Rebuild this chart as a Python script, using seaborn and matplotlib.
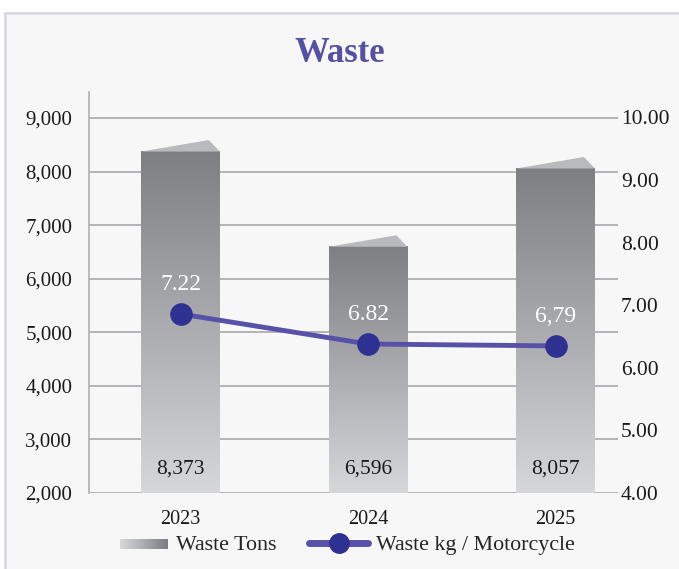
import numpy as np
import matplotlib
matplotlib.use("Agg")
import matplotlib.pyplot as plt
import seaborn as sns
from matplotlib.patches import Rectangle, Polygon
from matplotlib.lines import Line2D
from matplotlib.legend_handler import HandlerBase
from matplotlib.colors import LinearSegmentedColormap

# Data
years = ["2023", "2024", "2025"]
waste_tons = [8373, 6596, 8057]
waste_tons_labels = ["8,373", "6,596", "8,057"]
# kg per motorcycle: marker positions as drawn, and labels as printed
kg_per_moto = [6.86, 6.38, 6.35]
kg_labels = ["7.22", "6.82", "6,79"]

left_ticks = [2000, 3000, 4000, 5000, 6000, 7000, 8000, 9000]
right_ticks = [4, 5, 6, 7, 8, 9, 10]

TITLE_COLOR = "#5451a3"
LINE_COLOR = "#5752a8"
MARKER_COLOR = "#2e3192"
GRID_COLOR = "#b4b4b6"
TEXT_COLOR = "#1a1a1a"
bar_cmap = LinearSegmentedColormap.from_list("bar", ["#d6d7d9", "#7e7f83"])

sns.set_theme(style="white")
plt.rcParams["font.family"] = ["Liberation Serif", "DejaVu Serif"]

fig = plt.figure(figsize=(6.79, 5.69), dpi=100)
fig.patch.set_facecolor("white")
fig.add_artist(Rectangle((5 / 679, -0.05), 1.1, 1 - 13 / 569 + 0.05,
                         transform=fig.transFigure, facecolor="#f7f7f8",
                         edgecolor="#d9d9e2", linewidth=2, zorder=-10))

ax = fig.add_axes([89 / 679, 1 - 493 / 569, (618 - 89) / 679, (493 - 92) / 569])
ax.set_facecolor("none")

df = {"year": years, "tons": waste_tons}
sns.barplot(x="year", y="tons", data=df, ax=ax, width=0.42, color="#999999", zorder=2)

y0, y1 = 2000, 9485
ax.set_ylim(y0, y1)
ax.set_xlim(-0.488, 2.333)
ax.set_yticks(left_ticks)
ax.set_yticklabels([f"{t:,}" for t in left_ticks], fontsize=15, color=TEXT_COLOR)
ax.tick_params(axis="y", length=0, pad=12)
ax.tick_params(axis="x", length=0, pad=12, labelsize=14.5, labelcolor=TEXT_COLOR)
ax.set_xlabel("")
ax.set_ylabel("")
ax.grid(axis="y", color=GRID_COLOR, linewidth=1.4, zorder=0)
for s in ["top", "right", "bottom"]:
    ax.spines[s].set_visible(False)
ax.spines["left"].set_color("#b0b0b2")
ax.spines["left"].set_linewidth(1.2)

# gradient fill and a slanted top for each bar
ax_h_px = (493 - 92)
dy = (y1 - y0) * 11.5 / ax_h_px
grad = np.linspace(0, 1, 256).reshape(-1, 1)
for patch, val, lab in zip(ax.patches, waste_tons, waste_tons_labels):
    x0 = patch.get_x()
    w = patch.get_width()
    patch.set_facecolor("none")
    patch.set_edgecolor("none")
    ax.imshow(grad, extent=[x0, x0 + w, y0, val], origin="lower", aspect="auto",
              cmap=bar_cmap, zorder=2, interpolation="bicubic")
    ax.add_patch(Polygon([(x0, val), (x0 + 0.86 * w, val + dy), (x0 + w, val)],
                         closed=True, facecolor="#b9babd", edgecolor="none", zorder=2))
    ax.text(x0 + w / 2, 2450, lab, ha="center", va="center", fontsize=15.5,
            color=TEXT_COLOR, zorder=5)
ax.set_xlim(-0.488, 2.333)
ax.set_ylim(y0, y1)

# line on secondary axis
ax2 = ax.twinx()
ax2.set_facecolor("none")
xs = np.arange(len(years))
sns.lineplot(x=xs, y=kg_per_moto, ax=ax2, color=LINE_COLOR, linewidth=3.5,
             marker="o", markersize=15.5, markerfacecolor=MARKER_COLOR,
             markeredgecolor=MARKER_COLOR, zorder=4)
for x, v, lab in zip(xs, kg_per_moto, kg_labels):
    ax2.text(x, v + 0.47, lab, ha="center", va="center", fontsize=17,
             color="white", zorder=5)
ax2.set_ylim(4, 4 + ax_h_px / 62.6)
ax2.set_yticks(right_ticks)
ax2.set_yticklabels([f"{t:.2f}" for t in right_ticks], fontsize=15.5, color=TEXT_COLOR)
ax2.tick_params(axis="y", length=0, pad=2)
for s in ["top", "right", "bottom", "left"]:
    ax2.spines[s].set_visible(False)
ax2.grid(False)
ax2.set_xlim(-0.488, 2.333)


class GradientHandler(HandlerBase):
    def create_artists(self, legend, orig_handle, xdescent, ydescent,
                       width, height, fontsize, trans):
        n = 30
        start = -xdescent + width * 0.19
        span = width * 0.81
        arts = []
        for i in range(n):
            arts.append(Rectangle((start + span * i / n, -ydescent + height * 0.1),
                                  span / n + 0.3, height * 0.65,
                                  facecolor=bar_cmap(i / (n - 1)), edgecolor="none",
                                  transform=trans))
        return arts


bar_handle = Rectangle((0, 0), 1, 1)
line_handle = Line2D([], [], color=LINE_COLOR, linewidth=5, marker="o",
                     markersize=14, markerfacecolor=MARKER_COLOR,
                     markeredgecolor=MARKER_COLOR, solid_capstyle="round")
fig.legend([bar_handle, line_handle], ["Waste Tons", "Waste kg / Motorcycle"],
           handler_map={Rectangle: GradientHandler()},
           loc="center", bbox_to_anchor=(0.504, 1 - 545 / 569), ncol=2,
           frameon=False, fontsize=15.8, handlelength=2.65, columnspacing=1.5,
           handletextpad=0.4)

fig.text(0.5, 1 - 53 / 569, "Waste", ha="center", va="center", fontsize=25,
         fontweight="bold", color=TITLE_COLOR)

fig.savefig("out.png", dpi=100)
